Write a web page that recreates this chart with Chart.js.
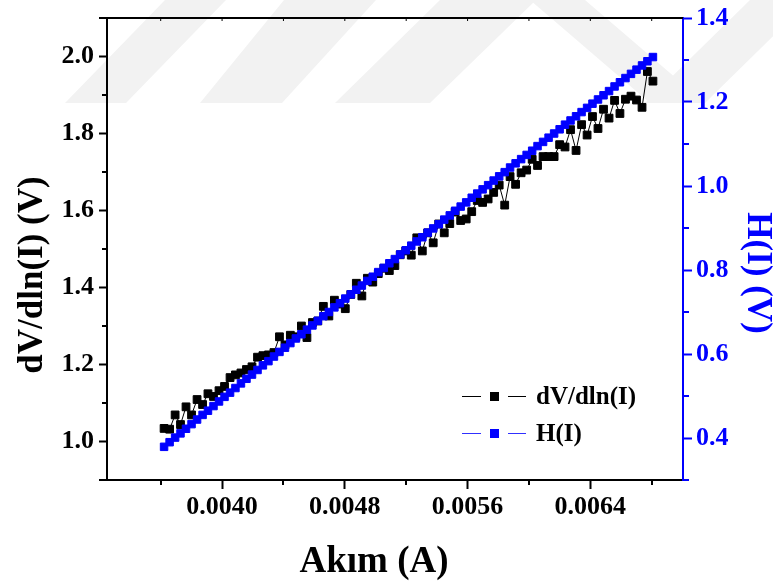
<!DOCTYPE html>
<html>
<head>
<meta charset="utf-8">
<title>dV/dln(I) ve H(I)</title>
<script src="https://cdn.jsdelivr.net/npm/chart.js@4.4.0/dist/chart.umd.min.js"></script>
<style>
  html, body { margin: 0; padding: 0; background: #fff; }
  #wrap { width: 773px; height: 581px; }
</style>
</head>
<body>
<div id="wrap"><canvas id="grafik" width="773" height="581"></canvas></div>
<script>
// akim (A)
var current = [
  0.003622, 0.003658, 0.003694, 0.003729, 0.003765, 0.003801, 0.003837, 0.003873, 0.003908, 0.003944,
  0.003980, 0.004016, 0.004052, 0.004087, 0.004123, 0.004159, 0.004195, 0.004231, 0.004266, 0.004302,
  0.004338, 0.004374, 0.004410, 0.004445, 0.004481, 0.004517, 0.004553, 0.004589, 0.004624, 0.004660,
  0.004696, 0.004732, 0.004768, 0.004803, 0.004839, 0.004875, 0.004911, 0.004947, 0.004982, 0.005018,
  0.005054, 0.005090, 0.005126, 0.005161, 0.005197, 0.005233, 0.005269, 0.005305, 0.005340, 0.005376,
  0.005412, 0.005448, 0.005484, 0.005519, 0.005555, 0.005591, 0.005627, 0.005663, 0.005698, 0.005734,
  0.005770, 0.005806, 0.005842, 0.005877, 0.005913, 0.005949, 0.005985, 0.006021, 0.006056, 0.006092,
  0.006128, 0.006164, 0.006200, 0.006235, 0.006271, 0.006307, 0.006343, 0.006379, 0.006414, 0.006450,
  0.006486, 0.006522, 0.006558, 0.006593, 0.006629, 0.006665, 0.006701, 0.006737, 0.006772, 0.006808
];

// dV/dln(I) (V), sol eksen
var dvdlnI = [
  1.034, 1.032, 1.069, 1.044, 1.090, 1.069, 1.109, 1.096, 1.124, 1.117,
  1.132, 1.143, 1.166, 1.173, 1.178, 1.187, 1.194, 1.219, 1.223, 1.225,
  1.231, 1.272, 1.251, 1.276, 1.272, 1.300, 1.270, 1.309, 1.313, 1.351,
  1.326, 1.367, 1.357, 1.345, 1.382, 1.411, 1.378, 1.424, 1.414, 1.436,
  1.450, 1.444, 1.457, 1.485, 1.495, 1.484, 1.529, 1.495, 1.542, 1.516,
  1.565, 1.542, 1.566, 1.596, 1.574, 1.578, 1.597, 1.626, 1.621, 1.630,
  1.647, 1.666, 1.614, 1.688, 1.668, 1.698, 1.705, 1.733, 1.717, 1.740,
  1.740, 1.740, 1.771, 1.765, 1.810, 1.756, 1.823, 1.796, 1.844, 1.813,
  1.863, 1.840, 1.886, 1.852, 1.889, 1.897, 1.887, 1.868, 1.961, 1.936
];

// H(I) (V), sag eksen
var hI = [
  0.379, 0.390, 0.401, 0.411, 0.422, 0.433, 0.444, 0.455, 0.465, 0.476,
  0.487, 0.498, 0.508, 0.519, 0.530, 0.541, 0.551, 0.562, 0.573, 0.583,
  0.594, 0.605, 0.615, 0.626, 0.637, 0.647, 0.658, 0.668, 0.679, 0.690,
  0.700, 0.711, 0.721, 0.732, 0.742, 0.753, 0.763, 0.774, 0.784, 0.795,
  0.805, 0.816, 0.826, 0.837, 0.847, 0.858, 0.868, 0.878, 0.889, 0.899,
  0.909, 0.920, 0.930, 0.941, 0.951, 0.961, 0.972, 0.982, 0.992, 1.002,
  1.013, 1.023, 1.033, 1.044, 1.054, 1.064, 1.074, 1.084, 1.095, 1.105,
  1.115, 1.125, 1.135, 1.146, 1.156, 1.166, 1.176, 1.186, 1.196, 1.206,
  1.216, 1.226, 1.237, 1.247, 1.257, 1.267, 1.277, 1.287, 1.297, 1.307
];

// eksen cizgileri
var xMajor = [0.0040, 0.0048, 0.0056, 0.0064];
var xMinor = [0.0036, 0.0044, 0.0052, 0.0060, 0.0068];
var leftMajor = [1.0, 1.2, 1.4, 1.6, 1.8, 2.0];
var leftMinor = [0.9, 1.1, 1.3, 1.5, 1.7, 1.9, 2.1];
var rightMajor = [0.4, 0.6, 0.8, 1.0, 1.2, 1.4];
var rightMinor = [0.3, 0.5, 0.7, 0.9, 1.1, 1.3];

var seriesNames = ['dV/dln(I)', 'H(I)'];
var axisTitles = { x: 'Akım (A)', y: 'dV/dln(I) (V)', y1: 'H(I) (V)' };

var SERIF = "'Liberation Serif', 'Times New Roman', serif";
var BLUE = '#0000ff';

function pairs(xs, ys) {
    return xs.map(function (x, i) { return { x: x, y: ys[i] }; });
}
function setTicks(list) {
    return function (scale) {
        scale.ticks = list.map(function (v) { return { value: v }; });
    };
}

// soluk capraz bantlar (arka plan)
var bands = {
    id: 'bands',
    beforeDraw: function (chart) {
        var ctx = chart.ctx;
        var shapes = [
            [[165, 0], [226, 0], [126, 103], [65, 103]],
            [[284, 0], [376, 0], [282, 103], [200, 103]],
            [[440, 0], [536, 0], [430, 103], [335, 103]],
            [[530, 0], [585, 0], [705, 103], [650, 103]],
            [[750, 0], [810, 0], [705, 103], [645, 103]]
        ];
        ctx.save();
        ctx.fillStyle = '#f2f2f2';
        shapes.forEach(function (p) {
            ctx.beginPath();
            ctx.moveTo(p[0][0], p[0][1]);
            for (var i = 1; i < p.length; i++) ctx.lineTo(p[i][0], p[i][1]);
            ctx.closePath();
            ctx.fill();
        });
        ctx.restore();
    }
};

// ust cerceve, ara (kisa) cizgiler ve eksen basliklari
var frame = {
    id: 'frame',
    afterDraw: function (chart) {
        var ctx = chart.ctx, a = chart.chartArea, s = chart.scales;
        ctx.save();
        ctx.lineWidth = 2;
        ctx.strokeStyle = '#000';
        ctx.beginPath();
        ctx.moveTo(a.left - 1, a.top);
        ctx.lineTo(a.right, a.top);
        ctx.stroke();

        // ust kenar icine dogru minik cizgiler
        ctx.lineWidth = 1;
        xMajor.concat(xMinor).forEach(function (v) {
            var px = s.x.getPixelForValue(v);
            ctx.beginPath();
            ctx.moveTo(px, a.top);
            ctx.lineTo(px, a.top + 3);
            ctx.stroke();
        });

        ctx.lineWidth = 2;
        xMinor.forEach(function (v) {
            var px = Math.round(s.x.getPixelForValue(v));
            ctx.beginPath();
            ctx.moveTo(px, a.bottom);
            ctx.lineTo(px, a.bottom + 5);
            ctx.stroke();
        });
        leftMinor.forEach(function (v) {
            var py = Math.round(s.y.getPixelForValue(v));
            ctx.beginPath();
            ctx.moveTo(a.left, py);
            ctx.lineTo(a.left - (v === 0.9 || v === 2.1 ? 8 : 5), py);
            ctx.stroke();
        });
        ctx.strokeStyle = BLUE;
        rightMinor.forEach(function (v) {
            var py = Math.round(s.y1.getPixelForValue(v));
            ctx.beginPath();
            ctx.moveTo(a.right, py);
            ctx.lineTo(a.right + 6, py);
            ctx.stroke();
        });

        // eksen basliklari
        ctx.textAlign = 'center';
        ctx.fillStyle = '#000';
        ctx.font = 'bold 37px ' + SERIF;
        ctx.textBaseline = 'alphabetic';
        ctx.fillText(axisTitles.x, a.left + 267, a.bottom + 92);

        ctx.font = 'bold 35px ' + SERIF;
        ctx.textBaseline = 'middle';
        ctx.save();
        ctx.translate(a.left - 74, a.top + 257);
        ctx.rotate(-Math.PI / 2);
        ctx.fillText(axisTitles.y, 0, 0);
        ctx.restore();

        ctx.fillStyle = BLUE;
        ctx.save();
        ctx.translate(a.right + 74, a.top + 255);
        ctx.rotate(Math.PI / 2);
        ctx.fillText(axisTitles.y1, 0, 0);
        ctx.restore();
        ctx.restore();
    }
};

// grafik icindeki aciklama kutusu
var legendBox = {
    id: 'legendBox',
    afterDraw: function (chart) {
        var ctx = chart.ctx, a = chart.chartArea;
        var x0 = a.right - 221;
        var rows = [
            { y: a.bottom - 83.5, color: '#000', line: '#000', text: seriesNames[0] },
            { y: a.bottom - 46.5, color: BLUE, line: '#3030ff', text: seriesNames[1] }
        ];
        ctx.save();
        rows.forEach(function (r) {
            ctx.strokeStyle = r.line;
            ctx.lineWidth = 1;
            ctx.beginPath();
            ctx.moveTo(x0, r.y); ctx.lineTo(x0 + 19, r.y);
            ctx.moveTo(x0 + 46, r.y); ctx.lineTo(x0 + 64, r.y);
            ctx.stroke();
            ctx.fillStyle = r.color;
            ctx.fillRect(x0 + 28, r.y - 4.5, 9, 9);
            ctx.fillStyle = '#000';
            ctx.font = 'bold 25px ' + SERIF;
            ctx.textBaseline = 'middle';
            ctx.textAlign = 'left';
            ctx.fillText(r.text, x0 + 74, r.y + 1);
        });
        ctx.restore();
    }
};

var tickFont = { family: SERIF, size: 26, weight: 'bold', lineHeight: 1 };

var ctx = document.getElementById('grafik');
var chart = new Chart(ctx, {
    type: 'scatter',
    data: {
        datasets: [{
            label: seriesNames[0],
            data: pairs(current, dvdlnI),
            yAxisID: 'y',
            order: 2,
            showLine: true,
            borderColor: '#000',
            borderWidth: 1,
            backgroundColor: '#000',
            pointStyle: 'rect',
            pointRadius: 5.5,
            pointBorderWidth: 1,
            pointBorderColor: '#000',
            pointBackgroundColor: '#000'
        }, {
            label: seriesNames[1],
            data: pairs(current, hI),
            yAxisID: 'y1',
            order: 1,
            showLine: true,
            borderColor: BLUE,
            borderWidth: 1,
            backgroundColor: BLUE,
            pointStyle: 'rect',
            pointRadius: 5.3,
            pointBorderWidth: 1,
            pointBorderColor: BLUE,
            pointBackgroundColor: BLUE
        }]
    },
    options: {
        responsive: false,
        animation: false,
        layout: { padding: { top: 13, left: 0, right: 0, bottom: 0 } },
        plugins: {
            legend: { display: false },
            tooltip: { enabled: false }
        },
        scales: {
            x: {
                type: 'linear',
                position: 'bottom',
                min: 0.00325,
                max: 0.007004,
                afterBuildTicks: setTicks(xMajor),
                afterFit: function (s) { s.height = 101; },
                border: { color: '#000', width: 2 },
                grid: { drawOnChartArea: false, tickLength: 9, tickWidth: 2, tickColor: '#000' },
                ticks: {
                    autoSkip: false,
                    maxRotation: 0,
                    padding: 5,
                    color: '#000',
                    font: tickFont,
                    callback: function (v) { return v.toFixed(4); }
                }
            },
            y: {
                type: 'linear',
                position: 'left',
                min: 0.9,
                max: 2.1,
                afterBuildTicks: setTicks(leftMajor),
                afterFit: function (s) { s.width = 107; },
                border: { color: '#000', width: 2 },
                grid: { drawOnChartArea: false, tickLength: 8, tickWidth: 2, tickColor: '#000' },
                ticks: {
                    padding: 5,
                    color: '#000',
                    font: tickFont,
                    callback: function (v) { return v.toFixed(1); }
                }
            },
            y1: {
                type: 'linear',
                position: 'right',
                min: 0.3,
                max: 1.4,
                afterBuildTicks: setTicks(rightMajor),
                afterFit: function (s) { s.width = 90; },
                border: { color: BLUE, width: 2 },
                grid: { drawOnChartArea: false, tickLength: 9, tickWidth: 2, tickColor: BLUE },
                ticks: {
                    padding: 4,
                    color: BLUE,
                    font: tickFont,
                    callback: function (v) { return v.toFixed(1); }
                }
            }
        }
    },
    plugins: [bands, frame, legendBox]
});
</script>
</body>
</html>
